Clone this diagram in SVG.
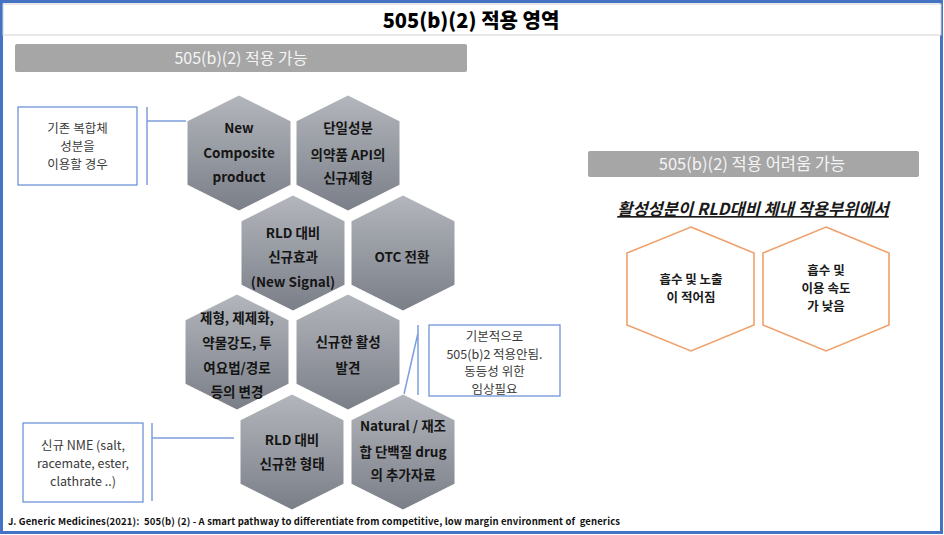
<svg xmlns="http://www.w3.org/2000/svg" width="944" height="535" viewBox="0 0 944 535">
<defs>
<linearGradient id="hg" x1="0" y1="0" x2="0" y2="1">
<stop offset="0" stop-color="#b3b6bc"/>
<stop offset="1" stop-color="#7a7e87"/>
</linearGradient>
<polygon id="hex" points="0,-58 52,-32 52,32 0,58 -52,32 -52,-32"/>
<style>
.hx{fill:url(#hg);stroke:#ffffff;stroke-width:1}
.ht{font-family:"Noto Sans CJK KR","Noto Sans",sans-serif;font-weight:700;font-size:13.5px;fill:#151515;text-anchor:middle}
.bx{fill:#ffffff;stroke:#6f96d8;stroke-width:1.3}
.bt{font-family:"Noto Sans CJK KR","Noto Sans",sans-serif;font-size:12.5px;fill:#3a3a3a;text-anchor:middle}
.cn{stroke:#7d9fdc;stroke-width:1.5;fill:none}
.bar{fill:#a6a6a6}
.bart{font-family:"Noto Sans CJK KR","Noto Sans",sans-serif;fill:#f4f4f4;text-anchor:middle}
.oh{fill:#ffffff;stroke:#f0a06a;stroke-width:1.6}
.ot{font-family:"Noto Sans CJK KR","Noto Sans",sans-serif;font-weight:700;font-size:12.5px;fill:#1a1a1a;text-anchor:middle}
</style>
</defs>
<rect x="0" y="0" width="944" height="535" fill="#ffffff"/>
<rect x="1.5" y="1.5" width="940" height="531" fill="none" stroke="#4472c4" stroke-width="3"/>
<rect x="3" y="4" width="938" height="31" fill="#ffffff" stroke="#d2d2d2" stroke-width="1"/>
<text x="471" y="28" font-family="'Noto Sans CJK KR','Noto Sans',sans-serif" font-weight="900" font-size="20" text-anchor="middle" fill="#000000">505(b)(2) 적용 영역</text>

<g id="bar-left">
<rect class="bar" x="15" y="44" width="452" height="28" rx="2"/>
<text class="bart" x="241" y="64" font-size="16">505(b)(2) 적용 가능</text>
</g>
<g id="bar-right">
<rect class="bar" x="588" y="151" width="331" height="26" rx="2"/>
<text class="bart" x="752" y="170" font-size="16.5">505(b)(2) 적용 어려움 가능</text>
</g>

<g id="connectors">
<path class="cn" d="M147,107 V185 M147,121 H186"/>
<path class="cn" d="M152,423 V501 M152,438 H234"/>
<path class="cn" d="M418,325 V395 M418,333 L404,394"/>
</g>

<g id="box-composite">
<rect class="bx" x="18" y="107" width="119" height="78"/>
<text class="bt" x="77.5" y="133">기존 복합체</text>
<text class="bt" x="77.5" y="151">성분을</text>
<text class="bt" x="77.5" y="169">이용할 경우</text>
</g>
<g id="box-nme">
<rect class="bx" x="23" y="423" width="120" height="79"/>
<text class="bt" x="83" y="450">신규 NME (salt,</text>
<text class="bt" x="83" y="468">racemate, ester,</text>
<text class="bt" x="83" y="486">clathrate ..)</text>
</g>
<g id="box-clinical">
<rect class="bx" x="429" y="325" width="131" height="71"/>
<text class="bt" x="494.5" y="341" font-size="12">기본적으로</text>
<text class="bt" x="494.5" y="358.5" font-size="12">505(b)2 적용안됨.</text>
<text class="bt" x="494.5" y="376" font-size="12">동등성 위한</text>
<text class="bt" x="494.5" y="393.5" font-size="12">임상필요</text>
</g>

<g id="hex-new-composite">
<use href="#hex" class="hx" x="239" y="153"/>
<text class="ht" x="239" y="133">New</text>
<text class="ht" x="239" y="158">Composite</text>
<text class="ht" x="239" y="182">product</text>
</g>
<g id="hex-single-api">
<use href="#hex" class="hx" x="348" y="153"/>
<text class="ht" x="348" y="133">단일성분</text>
<text class="ht" x="348" y="160">의약품 API의</text>
<text class="ht" x="348" y="183">신규제형</text>
</g>
<g id="hex-new-signal">
<use href="#hex" class="hx" x="293" y="253"/>
<text class="ht" x="293" y="238">RLD 대비</text>
<text class="ht" x="293" y="262">신규효과</text>
<text class="ht" x="293" y="287">(New Signal)</text>
</g>
<g id="hex-otc">
<use href="#hex" class="hx" x="403" y="253"/>
<text class="ht" x="402" y="262">OTC 전환</text>
</g>
<g id="hex-formulation">
<use href="#hex" class="hx" x="237" y="352"/>
<text class="ht" x="237" y="323">제형, 제제화,</text>
<text class="ht" x="237" y="348">약물강도, 투</text>
<text class="ht" x="237" y="373">여요법/경로</text>
<text class="ht" x="237" y="397">등의 변경</text>
</g>
<g id="hex-new-activity">
<use href="#hex" class="hx" x="348" y="352"/>
<text class="ht" x="348" y="347">신규한 활성</text>
<text class="ht" x="348" y="373">발견</text>
</g>
<g id="hex-new-form">
<use href="#hex" class="hx" x="292" y="452"/>
<text class="ht" x="292" y="445">RLD 대비</text>
<text class="ht" x="292" y="469">신규한 형태</text>
</g>
<g id="hex-natural">
<use href="#hex" class="hx" x="403" y="452"/>
<text class="ht" x="403" y="431">Natural / 재조</text>
<text class="ht" x="403" y="457">합 단백질 drug</text>
<text class="ht" x="403" y="480">의 추가자료</text>
</g>

<text x="753" y="215" font-family="'Noto Sans CJK KR','Noto Sans',sans-serif" font-weight="700" font-style="italic" font-size="16.5" text-anchor="middle" text-decoration="underline" fill="#1a1a1a">활성성분이 RLD대비 체내 작용부위에서</text>

<g id="hex-absorption">
<polygon class="oh" points="691,227 754,253 754,325 691,351 627,325 627,253"/>
<text class="ot" x="691" y="284">흡수 및 노출</text>
<text class="ot" x="691" y="302">이 적어짐</text>
</g>
<g id="hex-rate">
<polygon class="oh" points="826,227 889,253 889,325 826,351 763,325 763,253"/>
<text class="ot" x="826" y="275">흡수 및</text>
<text class="ot" x="826" y="293">이용 속도</text>
<text class="ot" x="826" y="311">가 낮음</text>
</g>

<text x="8" y="525" font-family="'Noto Sans CJK KR','Noto Sans',sans-serif" font-weight="700" font-size="9.5" fill="#111111" textLength="612" lengthAdjust="spacing" xml:space="preserve">J. Generic Medicines(2021):  505(b) (2) - A smart pathway to differentiate from competitive, low margin environment of  generics</text>
</svg>
